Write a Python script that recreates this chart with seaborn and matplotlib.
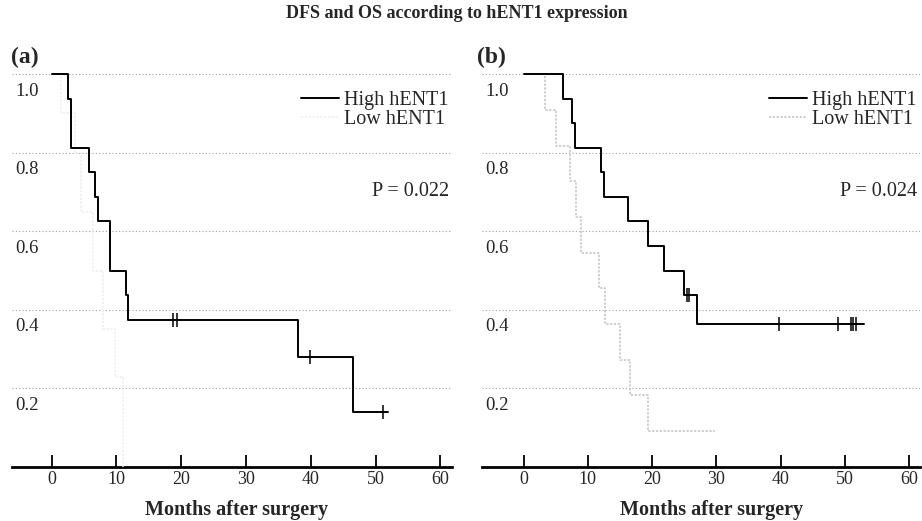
import numpy as np
import pandas as pd
import seaborn as sns
import matplotlib.pyplot as plt

# --- data (Kaplan-Meier steps) ---
# (a) DFS
a_high_t = [0, 2.5, 3.0, 5.8, 6.7, 7.1, 9.0, 11.5, 11.8, 38.0, 46.5, 52.0]
a_high_s = [1.0, 0.9375, 0.8125, 0.75, 0.6875, 0.625, 0.5, 0.4375, 0.375, 0.281, 0.1406, 0.1406]
a_high_cens = [18.8, 19.3, 39.9, 51.1]
a_low_t = [0, 1.5, 3.6, 4.6, 6.4, 8.0, 9.8, 11.1]
a_low_s = [1.0, 0.9, 0.8, 0.65, 0.5, 0.35, 0.23, 0.0]

# (b) OS
b_high_t = [0, 6.1, 7.6, 8.0, 12.0, 12.5, 16.2, 19.4, 21.9, 24.9, 27.0, 53.0]
b_high_s = [1.0, 0.9375, 0.875, 0.8125, 0.75, 0.6875, 0.625, 0.5625, 0.5, 0.4375, 0.3646, 0.3646]
b_high_cens = [25.5, 25.8, 39.8, 49.0, 50.9, 51.3, 51.8]
b_low_t = [0, 3.4, 5.1, 7.3, 8.2, 9.0, 11.7, 12.7, 15.0, 16.6, 19.3, 29.8]
b_low_s = [1.0, 0.909, 0.818, 0.727, 0.636, 0.545, 0.455, 0.364, 0.273, 0.182, 0.091, 0.091]

p_values = ["P = 0.022", "P = 0.024"]
panel_tags = ["(a)", "(b)"]
x_ticks = [0, 10, 20, 30, 40, 50, 60]
y_ticks = [0.2, 0.4, 0.6, 0.8, 1.0]

sns.set_theme(style="white")
plt.rcParams['font.family'] = ['Liberation Serif', 'DejaVu Serif']

fig = plt.figure(figsize=(9.22, 5.21), dpi=100)
ax_a = fig.add_axes([0.013, 0.1036, 0.4772, 0.7544])
ax_b = fig.add_axes([0.5225, 0.1036, 0.4754, 0.7544])


def surv_at(t, s, c):
    t = np.asarray(t)
    idx = np.searchsorted(t, c, side='right') - 1
    return np.asarray(s)[idx]


def km_panel(ax, high_t, high_s, cens, low_t, low_s, low_color, xlim, pval, xlab_x):
    sns.lineplot(x=high_t, y=high_s, drawstyle='steps-post', color='black', lw=1.4,
                 estimator=None, sort=False, ax=ax, label='High hENT1', clip_on=False,
                 zorder=4)
    sns.lineplot(x=low_t, y=low_s, drawstyle='steps-post', color=low_color, lw=1.1,
                 estimator=None, sort=False, ax=ax, label='Low hENT1', clip_on=False,
                 linestyle=(0, (1.5, 1)), zorder=3)
    cdf = pd.DataFrame({'t': cens, 's': surv_at(high_t, high_s, cens)})
    sns.scatterplot(data=cdf, x='t', y='s', marker='|', s=110, color='black',
                    linewidth=1.1, ax=ax, legend=False, clip_on=False, zorder=5)

    ax.set_xlim(*xlim)
    ax.set_ylim(0, 1.0)
    ax.set_xticks(x_ticks)
    ax.set_yticks(y_ticks)
    ax.set_yticklabels([])
    ax.tick_params(axis='x', direction='in', length=9, width=1.3, color='black',
                   labelsize=13, pad=3, bottom=True)
    ax.tick_params(axis='y', length=0)
    ax.grid(axis='y', color='#a0a0a0', lw=0.8, ls=(0, (1, 2)))
    ax.grid(axis='x', visible=False)
    for sp in ['left', 'right', 'top']:
        ax.spines[sp].set_visible(False)
    ax.spines['bottom'].set_color('black')
    ax.spines['bottom'].set_linewidth(2)

    for yv in y_ticks:
        ax.text(xlim[0] + 0.5, yv - 0.022, f"{yv:.1f}", ha='left', va='top', fontsize=13.5)

    ax.set_xlabel('Months after surgery', fontsize=14.5, fontweight='bold')
    ax.xaxis.set_label_coords(xlab_x, -0.083)
    ax.xaxis.label.set_va('top')
    ax.set_ylabel('')

    ax.legend(loc='upper right', bbox_to_anchor=(0.993, 0.958), frameon=False,
              fontsize=14.5, handlelength=1.9, handletextpad=0.25, labelspacing=0.02,
              borderpad=0, borderaxespad=0)
    ax.text(0.993, 0.70, pval, transform=ax.transAxes,
            ha='right', va='center', fontsize=14.5)


km_panel(ax_a, a_high_t, a_high_s, a_high_cens, a_low_t, a_low_s, '#ededed',
         (-6.1, 61.8), p_values[0], 0.511)
km_panel(ax_b, b_high_t, b_high_s, b_high_cens, b_low_t, b_low_s, '#c2c2c2',
         (-6.5, 61.7), p_values[1], 0.525)

fig.text(0.495, 0.975, 'DFS and OS according to hENT1 expression', ha='center', va='center',
         fontsize=13, fontweight='bold')
fig.text(0.012, 0.889, panel_tags[0], ha='left', va='center', fontsize=17, fontweight='bold')
fig.text(0.517, 0.889, panel_tags[1], ha='left', va='center', fontsize=17, fontweight='bold')

fig.savefig('out.png', dpi=100)
